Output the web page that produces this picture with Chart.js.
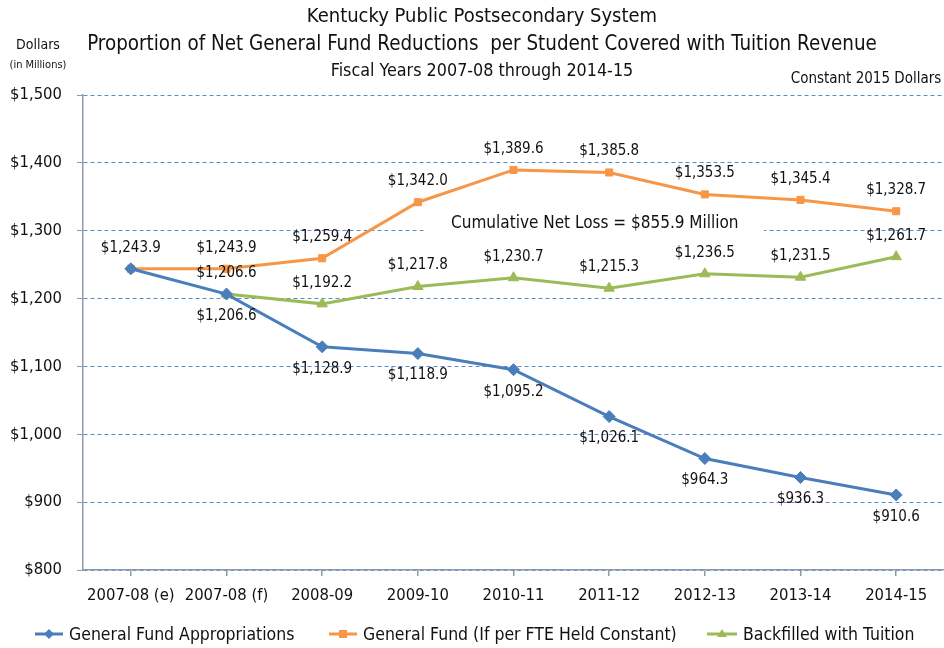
<!DOCTYPE html>
<html>
<head>
<meta charset="utf-8">
<script src="https://cdn.jsdelivr.net/npm/chart.js@4.4.1/dist/chart.umd.min.js"></script>
<style>
  html, body { margin: 0; padding: 0; background: #fff; }
  #wrap { width: 944px; height: 648px; }
</style>
</head>
<body>
<div id="wrap"><canvas id="myChart" width="944" height="648"></canvas></div>
<script>
// data
const years = ['2007-08 (e)', '2007-08 (f)', '2008-09', '2009-10', '2010-11', '2011-12', '2012-13', '2013-14', '2014-15'];
const appropriations = [1243.9, 1206.6, 1128.9, 1118.9, 1095.2, 1026.1, 964.3, 936.3, 910.6];
const heldConstant = [1243.9, 1243.9, 1259.4, 1342.0, 1389.6, 1385.8, 1353.5, 1345.4, 1328.7];
const backfilled = [null, 1206.6, 1192.2, 1217.8, 1230.7, 1215.3, 1236.5, 1231.5, 1261.7];
const seriesNames = ['General Fund Appropriations', 'General Fund (If per FTE Held Constant)', 'Backfilled with Tuition'];

const FONT = "'Liberation Sans Narrow', 'DejaVu Sans Condensed', sans-serif";
const BLUE = '#4A7EBB';
const ORANGE = '#F79646';
const GREEN = '#9BBB59';
const AXIS = '#8C9AAE';

function money(v) {
    return '$' + v.toLocaleString('en-US', { minimumFractionDigits: 1, maximumFractionDigits: 1 });
}

// legend icon: short line with the marker on top
function drawLegendIcon(g, x0, x1, yc, color, style) {
    const cx = (x0 + x1) / 2;
    g.save();
    g.strokeStyle = color; g.fillStyle = color; g.lineWidth = 3;
    g.beginPath(); g.moveTo(x0, yc); g.lineTo(x1, yc); g.stroke();
    g.beginPath();
    if (style === 'rectRot') { g.moveTo(cx, yc - 5); g.lineTo(cx + 5, yc); g.lineTo(cx, yc + 5); g.lineTo(cx - 5, yc); }
    else if (style === 'rect') { g.rect(cx - 4, yc - 4, 8, 8); }
    else { g.moveTo(cx, yc - 5); g.lineTo(cx + 5, yc + 3); g.lineTo(cx - 5, yc + 3); }
    g.closePath(); g.fill();
    g.restore();
}

// note box sits over the grid, under the lines
const noteBoxPlugin = {
    id: 'noteBox',
    beforeDatasetsDraw(chart) {
        const x = chart.scales.x, y = chart.scales.y;
        const cx = x.getPixelForValue(4.85), cy = y.getPixelForValue(1311);
        chart.ctx.save();
        chart.ctx.fillStyle = '#fff';
        chart.ctx.fillRect(cx - 169, cy - 13, 338, 26);
        chart.ctx.restore();
    }
};

// labels drawn next to the points
const labelPlugin = {
    id: 'pointLabels',
    afterDatasetsDraw(chart) {
        const ctx = chart.ctx;
        ctx.save();
        ctx.font = '15px ' + FONT;
        ctx.fillStyle = '#111';
        ctx.textAlign = 'center';
        ctx.textBaseline = 'middle';
        chart.data.datasets.forEach((ds, i) => {
            const meta = chart.getDatasetMeta(i);
            meta.data.forEach((pt, j) => {
                const v = ds.data[j];
                if (v == null) return;
                if (i === 1 && j === 0) return; // same value as blue, shown once
                let dy = (i === 0 && j > 0) ? 22 : -21;
                ctx.fillText(money(v), pt.x, pt.y + dy);
            });
        });
        ctx.restore();
    }
};

// titles, axis caption, note and legend
const textPlugin = {
    id: 'texts',
    afterDraw(chart) {
        const ctx = chart.ctx;
        const x = chart.scales.x, y = chart.scales.y;
        ctx.save();
        ctx.fillStyle = '#111';
        ctx.textAlign = 'center';
        ctx.textBaseline = 'middle';
        ctx.font = '20px ' + FONT;
        ctx.fillText('Kentucky Public Postsecondary System', 482, 17);
        ctx.font = '20.4px ' + FONT;
        ctx.fillText('Proportion of Net General Fund Reductions  per Student Covered with Tuition Revenue', 482, 45);
        ctx.font = '17.8px ' + FONT;
        ctx.fillText('Fiscal Years 2007-08 through 2014-15', 482, 71);
        ctx.font = '14px ' + FONT;
        ctx.fillText('Dollars', 38, 45);
        ctx.font = '11px ' + FONT;
        ctx.fillText('(in Millions)', 38, 65);
        ctx.font = '15px ' + FONT;
        ctx.fillText('Constant 2015 Dollars', 866, 79);
        ctx.font = '17px ' + FONT;
        ctx.fillText('Cumulative Net Loss = $855.9 Million', x.getPixelForValue(4.85), y.getPixelForValue(1311));

        // legend
        ctx.font = '17.5px ' + FONT;
        ctx.textAlign = 'left';
        const styles = ['rectRot', 'rect', 'triangle'];
        const colors = [BLUE, ORANGE, GREEN];
        const icons = [[35, 63], [329, 357], [707, 737]];
        const textX = [69, 363, 743];
        seriesNames.forEach((n, i) => {
            drawLegendIcon(ctx, icons[i][0], icons[i][1], 634, colors[i], styles[i]);
            ctx.fillText(n, textX[i], 635);
        });
        ctx.restore();
    }
};

const ctx = document.getElementById('myChart');
new Chart(ctx, {
    type: 'line',
    data: {
        labels: years,
        datasets: [
            { label: seriesNames[0], data: appropriations, borderColor: BLUE, backgroundColor: BLUE, pointStyle: 'rectRot', pointRadius: 6 },
            { label: seriesNames[1], data: heldConstant, borderColor: ORANGE, backgroundColor: ORANGE, pointStyle: 'rect', pointRadius: 5 },
            { label: seriesNames[2], data: backfilled, borderColor: GREEN, backgroundColor: GREEN, pointStyle: 'triangle', pointRadius: 6 }
        ]
    },
    options: {
        responsive: false,
        animation: false,
        devicePixelRatio: 1,
        elements: { line: { borderWidth: 3, tension: 0 }, point: { borderWidth: 1 } },
        layout: { autoPadding: false, padding: { top: 95, right: -3, bottom: 38, left: 0 } },
        plugins: { legend: { display: false }, title: { display: false }, tooltip: { enabled: false } },
        scales: {
            x: {
                offset: true,
                grid: { offset: false, drawOnChartArea: false, color: AXIS, tickLength: 6, lineWidth: 1.5 },
                border: { color: AXIS, width: 1.5 },
                ticks: { color: '#111', font: { family: FONT, size: 16.5 }, padding: 10, maxRotation: 0, autoSkip: false },
                afterFit: s => { s.height = 40; s.paddingLeft = 0; s.paddingRight = 0; }
            },
            y: {
                min: 800, max: 1500,
                ticks: { stepSize: 100, color: '#111', font: { family: FONT, size: 16.5 }, padding: 15,
                    callback: v => '$' + v.toLocaleString('en-US') },
                grid: { color: '#5D8BC8', tickColor: AXIS, tickLength: 6 },
                border: { color: AXIS, width: 1.5, dash: [4, 3] },
                afterFit: s => { s.width = 83; }
            }
        }
    },
    plugins: [noteBoxPlugin, labelPlugin, textPlugin]
});
</script>
</body>
</html>
